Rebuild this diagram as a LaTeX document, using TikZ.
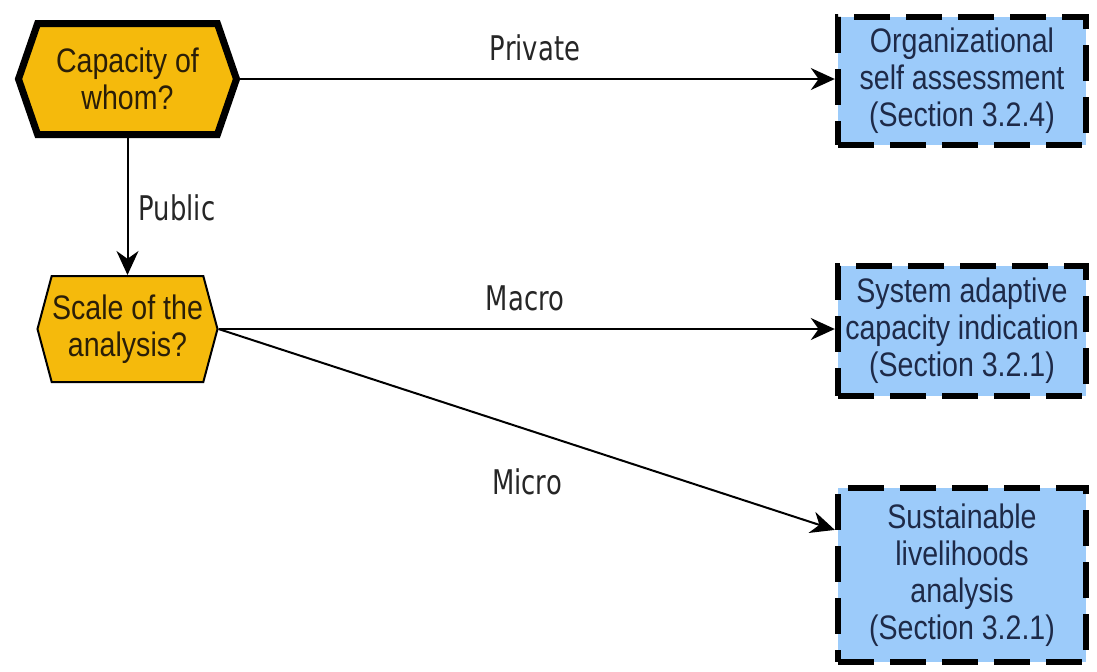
\documentclass[tikz,border=0pt]{standalone}
\usepackage{fontspec}
\setmainfont{Liberation Sans}[FakeStretch=0.84]
\newfontfamily\edgefont{DejaVu Sans}[FakeStretch=0.76]
\usepackage{xcolor}
\usetikzlibrary{arrows.meta, shapes.symbols, calc}
\definecolor{hexfill}{HTML}{F5BA0C}
\definecolor{boxfill}{HTML}{9CCBFA}
\definecolor{boxtext}{HTML}{1E2A48}
\definecolor{hextext}{HTML}{2A1E08}

\tikzset{
  question/.style={shape=signal, signal to=east and west, signal pointer angle=142,
    draw=black, fill=hexfill, text=hextext, align=center, inner sep=2pt,
    font=\fontsize{17}{18.5}\selectfont},
  method/.style={rectangle, draw=black, fill=boxfill, text=boxtext, align=center,
    line width=3.2pt, dash pattern=on 18pt off 8pt, minimum width=124pt,
    font=\fontsize{17}{18.5}\selectfont},
  link/.style={-{Stealth[length=12pt,width=11pt]}, line width=1pt},
  linklabel/.style={font=\edgefont\fontsize{17}{20}\selectfont, text=black!85}
}

\begin{document}
\begin{tikzpicture}[x=0.5pt, y=-0.5pt]
\useasboundingbox (0,0) rectangle (1097,671);
% questions
\node[question, line width=3.5pt, minimum width=109pt, minimum height=55.5pt] (whom) at (127.5,79) {Capacity of\\whom?};
\node[question, line width=1pt, signal pointer angle=150, inner xsep=0pt,
  minimum width=90pt, minimum height=53pt] (scale) at (127.5,329) {Scale of the\\analysis?};
% methods
\node[method, minimum height=64pt] (self) at (962,81) {Organizational\\self assessment\\(Section 3.2.4)};
\node[method, minimum height=65pt] (system) at (962,331) {System adaptive\\capacity indication\\(Section 3.2.1)};
\node[method, minimum height=87pt] (liveli) at (962,575) {Sustainable\\livelihoods\\analysis\\(Section 3.2.1)};
\coordinate (liveliin) at ($(liveli.north west)!0.25!(liveli.south west)$);
% edges
\draw[link] (whom.east) -- (self.west |- whom.east);
\draw[link] (whom.south) -- (scale.north);
\draw[link] (scale.east) -- (system.west |- scale.east);
\draw[link] (scale.east) -- (liveliin);
% edge labels
\node[linklabel] (lprivate) at (535,48) {Private};
\node[linklabel] (lpublic) at (177,208) {Public};
\node[linklabel] (lmacro) at (525,298) {Macro};
\node[linklabel] (lmicro) at (527,482) {Micro};
\end{tikzpicture}
\end{document}
